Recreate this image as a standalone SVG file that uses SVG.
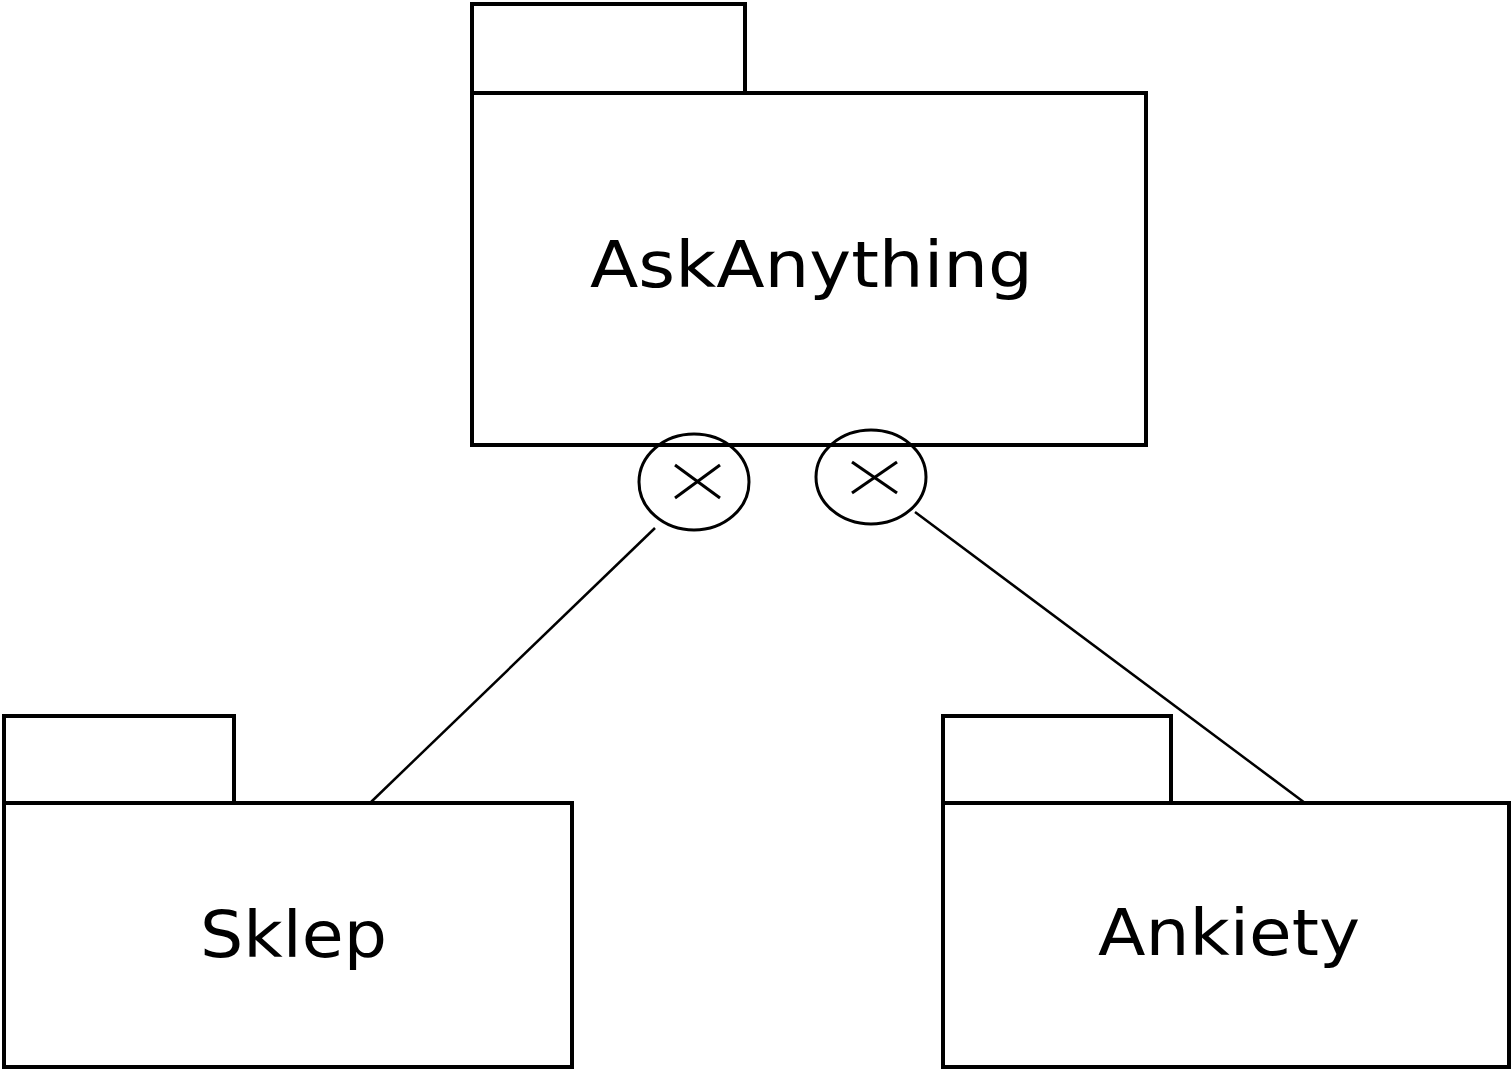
<svg xmlns="http://www.w3.org/2000/svg" width="1511" height="1070" viewBox="0 0 1511 1070">
<style>
.box{fill:#fff;stroke:#000;stroke-width:4}
.lbl{font-family:"DejaVu Sans",Verdana,sans-serif;font-size:64px;fill:#000}
.circ{fill:none;stroke:#000;stroke-width:3}
.x{stroke:#000;stroke-width:3}
.conn{stroke:#000;stroke-width:2.5;fill:none}
</style>
<rect width="1511" height="1070" fill="#fff"/>
<g id="connectors">
<line class="conn" x1="655" y1="528" x2="370" y2="803"/>
<line class="conn" x1="915" y1="512" x2="1305" y2="803"/>
</g>
<g id="AskAnything">
<rect class="box" x="472" y="4" width="273" height="89"/>
<rect class="box" x="472" y="93" width="674" height="352"/>
<text class="lbl" x="590" y="287" textLength="443" lengthAdjust="spacingAndGlyphs">AskAnything</text>
</g>
<g id="nest-left">
<ellipse class="circ" cx="694" cy="482" rx="55" ry="48"/>
<line class="x" x1="675" y1="465" x2="720" y2="498"/>
<line class="x" x1="675" y1="498" x2="720" y2="465"/>
</g>
<g id="nest-right">
<ellipse class="circ" cx="871" cy="477" rx="55" ry="47"/>
<line class="x" x1="852" y1="462" x2="897" y2="493"/>
<line class="x" x1="852" y1="493" x2="897" y2="462"/>
</g>
<g id="Sklep">
<rect class="box" x="4" y="716" width="230" height="87"/>
<rect class="box" x="4" y="803" width="568" height="264"/>
<text class="lbl" x="200" y="957" textLength="187" lengthAdjust="spacingAndGlyphs">Sklep</text>
</g>
<g id="Ankiety">
<rect class="box" x="943" y="716" width="228" height="87"/>
<rect class="box" x="943" y="803" width="566" height="264"/>
<text class="lbl" x="1098" y="955" textLength="262" lengthAdjust="spacingAndGlyphs">Ankiety</text>
</g>
</svg>
